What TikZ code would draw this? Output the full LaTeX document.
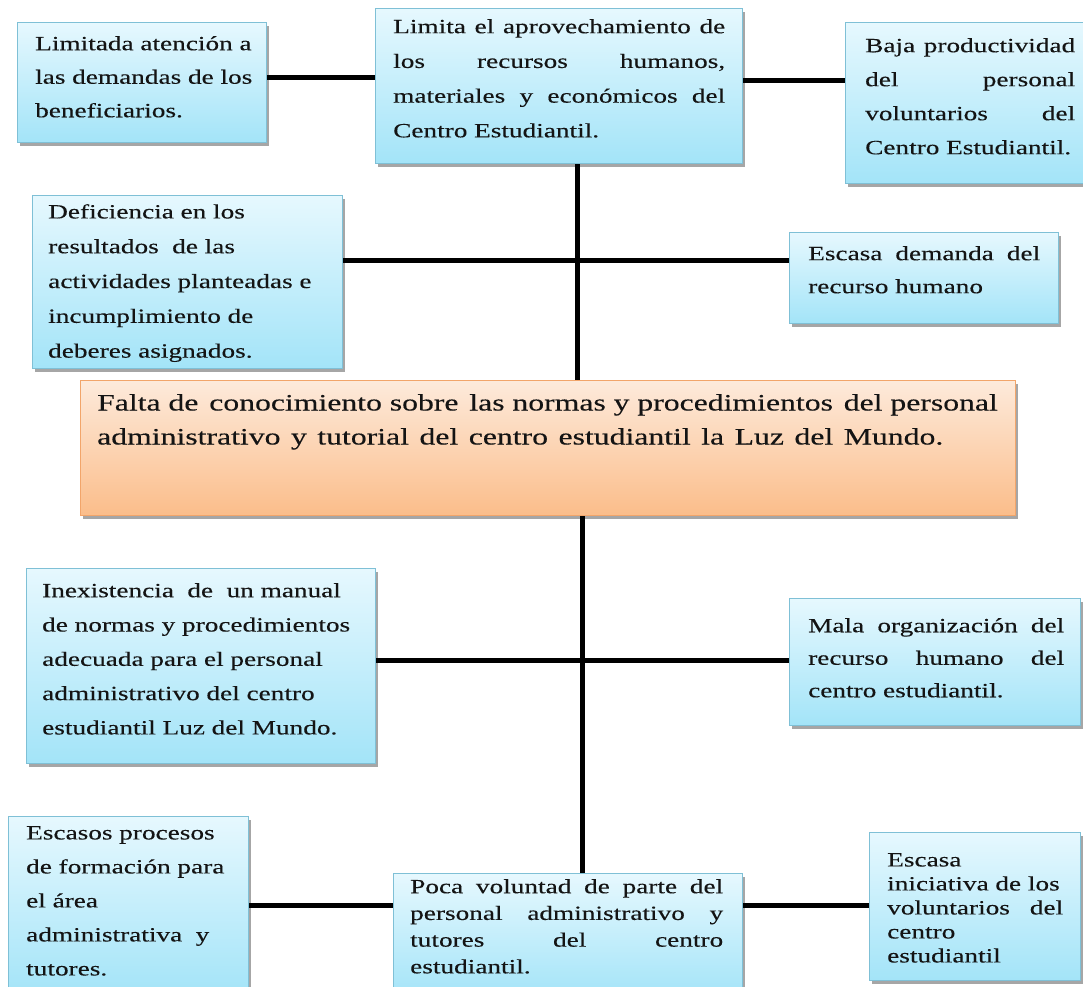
\documentclass[tikz,border=0pt]{standalone}
\usepackage{fontspec}
\setmainfont{Liberation Serif}[FakeStretch=1.35,FakeBold=0.25]
\usetikzlibrary{shadows,calc}
\definecolor{btop}{HTML}{E6F8FE}
\definecolor{bbot}{HTML}{A3E4F8}
\definecolor{bline}{HTML}{7FC0D6}
\definecolor{otop}{HTML}{FDEADB}
\definecolor{obot}{HTML}{FBBD8A}
\definecolor{oline}{HTML}{F2A56A}
\definecolor{ink}{HTML}{141414}
\newcommand\jl[2]{\leavevmode{\spaceskip=\fontdimen2\font plus 1fil\relax\hbox to #1{#2}}}
\begin{document}
\begin{tikzpicture}[x=1pt,y=-1pt,
  bluebox/.style={rectangle, draw=bline, line width=1.2pt, top color=btop, bottom color=bbot,
    drop shadow={shadow xshift=2pt,shadow yshift=-3pt,opacity=.35,fill=black},
    anchor=north west, inner sep=0pt},
  orangebox/.style={bluebox, draw=oline, top color=otop, bottom color=obot},
  txt/.style={anchor=north west, inner sep=0pt, align=left, text=ink},
  conn/.style={line width=5pt, black}]
\useasboundingbox (0,0) rectangle (1083,986);
% boxes
\node[bluebox, minimum width=249pt, minimum height=120pt] (b1) at (17,22) {};
\node[bluebox, minimum width=367pt, minimum height=155pt] (b2) at (375,8) {};
\node[bluebox, minimum width=245pt, minimum height=161pt] (b3) at (845,22) {};
\node[bluebox, minimum width=310pt, minimum height=173pt] (b4) at (32,195) {};
\node[bluebox, minimum width=269pt, minimum height=91pt] (b5) at (789,232) {};
\node[orangebox, minimum width=935pt, minimum height=135pt] (o) at (80,380) {};
\node[bluebox, minimum width=349pt, minimum height=195pt] (b7) at (26,568) {};
\node[bluebox, minimum width=291pt, minimum height=127pt] (b8) at (789,598) {};
\node[bluebox, minimum width=240pt, minimum height=180pt] (b9) at (8,816) {};
\node[bluebox, minimum width=349pt, minimum height=125pt] (b10) at (393,873) {};
\node[bluebox, minimum width=211pt, minimum height=148pt] (b11) at (869,832) {};
% connectors
\coordinate (h1) at (0,77);
\coordinate (h2) at (0,80);
\coordinate (v1) at (577,0);
\coordinate (h3) at (0,260);
\coordinate (v2) at (582,0);
\coordinate (h4) at (0,660);
\coordinate (h5) at (0,905);
\draw[conn] (b1.east |- h1) -- (b2.west |- h1);
\draw[conn] (b2.east |- h2) -- (b3.west |- h2);
\draw[conn] (b2.south -| v1) -- (o.north -| v1);
\draw[conn] (b4.east |- h3) -- (b5.west |- h3);
\draw[conn] (o.south -| v2) -- (b10.north -| v2);
\draw[conn] (b7.east |- h4) -- (b8.west |- h4);
\draw[conn] (b9.east |- h5) -- (b10.west |- h5);
\draw[conn] (b10.east |- h5) -- (b11.west |- h5);
% texts
\node[txt, text width=235pt, font={\fontsize{20.2}{33.5}\selectfont}] (t1) at (35,36)
  {Limitada atención a\\las demandas de los\\beneficiarios.};
\node[txt, text width=332pt, font={\fontsize{20.2}{34.7}\selectfont}] (t2) at (393,19)
  {\jl{332pt}{Limita el aprovechamiento de}\\\jl{332pt}{los recursos humanos,}\\\jl{332pt}{materiales y económicos del}\\Centro Estudiantil.};
\node[txt, text width=210pt, font={\fontsize{20.2}{34}\selectfont}] (t3) at (865,38)
  {\jl{210pt}{Baja productividad}\\\jl{210pt}{del personal}\\\jl{210pt}{voluntarios del}\\Centro Estudiantil.};
\node[txt, text width=290pt, font={\fontsize{20.2}{34.8}\selectfont}] (t4) at (48,204)
  {Deficiencia en los\\resultados\ \ de las\\actividades planteadas e\\incumplimiento de\\deberes asignados.};
\node[txt, text width=232pt, font={\fontsize{20.2}{33}\selectfont}] (t5) at (808,246)
  {\jl{232pt}{Escasa demanda del}\\recurso humano};
\node[txt, text width=920pt, font={\fontsize{23.5}{34}\selectfont}] (to) at (97,394)
  {Falta de\hspace{3pt} conocimiento sobre\hspace{3pt} las normas y procedimientos\hspace{3pt} del personal\\\jl{846pt}{administrativo y tutorial del centro estudiantil la Luz del Mundo.}};
\node[txt, text width=320pt, font={\fontsize{20.2}{34.3}\selectfont}] (t7) at (42,583)
  {Inexistencia\ \ de\ \ un manual\\de normas y procedimientos\\adecuada para el personal\\administrativo del centro\\estudiantil Luz del Mundo.};
\node[txt, text width=256pt, font={\fontsize{20.2}{32.5}\selectfont}] (t8) at (808,618)
  {\jl{256pt}{Mala organización del}\\\jl{256pt}{recurso humano del}\\centro estudiantil.};
\node[txt, text width=215pt, font={\fontsize{20.2}{34}\selectfont}] (t9) at (26,826)
  {Escasos procesos\\de formación para\\el área\\administrativa\ \ y\\tutores.};
\node[txt, text width=313pt, font={\fontsize{20.2}{26.7}\selectfont}] (t10) at (410,879)
  {\jl{313pt}{Poca voluntad de parte del}\\\jl{313pt}{personal administrativo y}\\\jl{313pt}{tutores del centro}\\estudiantil.};
\node[txt, text width=178pt, font={\fontsize{20.2}{24}\selectfont}] (t11) at (887,853)
  {Escasa\\iniciativa de los\\\jl{176pt}{voluntarios del}\\centro\\estudiantil};
\end{tikzpicture}
\end{document}
